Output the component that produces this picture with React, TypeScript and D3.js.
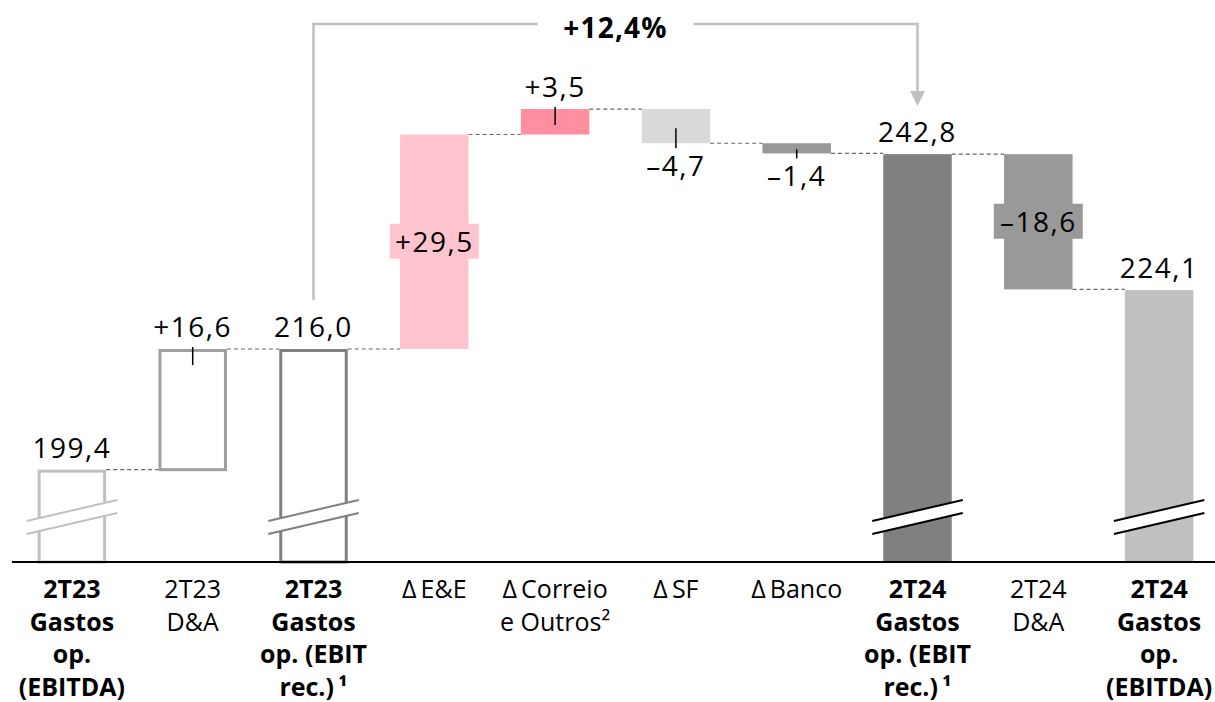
import React from "react";
import * as d3 from "d3";

const categories = [
  "2T23 EBITDA", "2T23 D&A", "2T23 EBIT", "E&E", "Correio", "SF", "Banco",
  "2T24 EBIT", "2T24 D&A", "2T24 EBITDA",
];
const labelLines = [
  ["2T23", "Gastos", "op.", "(EBITDA)"],
  ["2T23", "D&A"],
  ["2T23", "Gastos", "op. (EBIT", "rec.)\u2009¹"],
  ["Δ\u2009E&E"],
  ["Δ\u2009Correio", "e Outros²"],
  ["Δ\u2009SF"],
  ["Δ\u2009Banco"],
  ["2T24", "Gastos", "op. (EBIT", "rec.)\u2009¹"],
  ["2T24", "D&A"],
  ["2T24", "Gastos", "op.", "(EBITDA)"],
];
const boldLabel = [true, false, true, false, false, false, false, true, false, true];
const values = [199.4, 16.6, 216.0, 29.5, 3.5, -4.7, -1.4, 242.8, -18.6, 224.1];
const kinds = ["total", "delta", "total", "delta", "delta", "delta", "delta", "total", "delta", "total"];
const outlined = [true, true, true, false, false, false, false, false, false, false];
const broken = [true, false, true, false, false, false, false, true, false, true];
const colors = ["#c0c0c0", "#a0a0a0", "#808080", "#ffc4ce", "#ff8ea0", "#d9d9d9", "#999999", "#808080", "#999999", "#c0c0c0"];
const growthFrom = 2;
const growthTo = 7;

const W = 1215, H = 702;
const FONT = "'Open Sans', 'DejaVu Sans', sans-serif";
const VW = 400;

function fmt(v: number, kind: string) {
  const s = Math.abs(v).toFixed(1).replace(".", ",");
  if (kind === "total") return s;
  return (v >= 0 ? "+" : "\u2013") + s;
}

export default function App() {
  const x = d3.scaleBand<string>().domain(categories).range([11.5, 1219.5]).paddingInner(0.433).paddingOuter(0.2165);
  const y = d3.scaleLinear().domain([186.7, 264]).range([562, 0]);
  const bw = x.bandwidth();
  const base = y(186.7);

  let run = 0;
  const bars = values.map((v, i) => {
    let lo: number, hi: number, end: number;
    if (kinds[i] === "total") {
      lo = 186.7; hi = v; end = v; run = v;
    } else {
      const start = run;
      end = run + v;
      lo = Math.min(start, end); hi = Math.max(start, end);
      run = end;
    }
    const x0 = x(categories[i]) as number;
    return { i, v, kind: kinds[i], x0, x1: x0 + bw, cx: x0 + bw / 2, top: y(hi), bottom: y(lo), end };
  });

  const growth = values[growthTo] / values[growthFrom] - 1;
  const growthText = "+" + (growth * 100).toFixed(1).replace(".", ",") + "%";
  const gA = bars[growthFrom], gB = bars[growthTo];

  return (
    <svg width={W} height={H} style={{ position: "absolute", left: 0, top: 0, fontFamily: FONT }}>
      <rect width={W} height={H} fill="#fff" />
      {/* connectors */}
      {bars.slice(0, -1).map((b, i) => {
        const n = bars[i + 1];
        const yy = y(b.end);
        return (
          <line key={"c" + i} x1={b.x1} x2={n.x0} y1={yy} y2={yy} stroke="#666" strokeWidth={1.2} strokeDasharray="4 3" />
        );
      })}
      {/* bars */}
      {bars.map((b) =>
        outlined[b.i] ? (
          <rect key={"b" + b.i} x={b.x0 + 1.5} y={b.top + 1.5} width={bw - 3} height={b.bottom - b.top - 1.5}
            fill="none" stroke={colors[b.i]} strokeWidth={3} />
        ) : (
          <rect key={"b" + b.i} x={b.x0} y={b.top} width={bw} height={b.bottom - b.top} fill={colors[b.i]} />
        )
      )}
      {/* breaks */}
      {bars.filter((b) => broken[b.i]).map((b) => {
        const lx = b.x0 - 11, rx = b.x1 + 11;
        const ly = base - 41, ry = base - 62, g = 13;
        const col = outlined[b.i] ? colors[b.i] : "#000";
        return (
          <g key={"k" + b.i}>
            <polygon points={`${lx},${ly} ${rx},${ry} ${rx},${ry + g} ${lx},${ly + g}`} fill="#fff" />
            <line x1={lx} y1={ly} x2={rx} y2={ry} stroke={col} strokeWidth={2} />
            <line x1={lx} y1={ly + g} x2={rx} y2={ry + g} stroke={col} strokeWidth={2} />
          </g>
        );
      })}
      {/* baseline */}
      <line x1={12} x2={W} y1={base} y2={base} stroke="#000" strokeWidth={2} />
      {/* value labels */}
      {bars.map((b) => {
        const txt = fmt(b.v, b.kind);
        const h = b.bottom - b.top;
        if (b.kind === "delta" && !outlined[b.i] && h > 100) {
          const my = (b.top + b.bottom) / 2;
          return (
            <g key={"l" + b.i}>
              <rect x={b.cx - 44.5} y={my - 18} width={89} height={35} fill={colors[b.i]} />
              <text x={b.cx} y={my + 10} textAnchor="middle" fontSize={28} fontWeight={VW} letterSpacing={1.5} fill="#000">{txt}</text>
            </g>
          );
        }
        if (b.kind === "delta" && b.v < 0) {
          return (
            <g key={"l" + b.i}>
              <line x1={b.cx} x2={b.cx} y1={b.bottom + 5} y2={Math.max(b.top + 6, b.bottom - 15)} stroke="#000" strokeWidth={1.5} />
              <text x={b.cx} y={b.bottom + 33} textAnchor="middle" fontSize={28} fontWeight={VW} letterSpacing={1.5} fill="#000">{txt}</text>
            </g>
          );
        }
        return (
          <g key={"l" + b.i}>
            {b.kind === "delta" && (
              <line x1={b.cx} x2={b.cx} y1={b.top - 2} y2={b.top + 16} stroke="#000" strokeWidth={1.5} />
            )}
            <text x={b.cx} y={b.top - 12} textAnchor="middle" fontSize={28} fontWeight={VW} letterSpacing={1.5} fill="#000">{txt}</text>
          </g>
        );
      })}
      {/* growth bracket */}
      <path d={`M${gA.cx},300 V24 H${(gA.cx + gB.cx) / 2 - 78} M${(gA.cx + gB.cx) / 2 + 78},24 H${gB.cx} V92`}
        fill="none" stroke="#c0c0c0" strokeWidth={2.5} />
      <polygon points={`${gB.cx - 7.5},91 ${gB.cx + 7.5},91 ${gB.cx},106`} fill="#c0c0c0" />
      <text x={(gA.cx + gB.cx) / 2} y={38} textAnchor="middle" fontSize={28} fontWeight={700} letterSpacing={1.2} fill="#000">{growthText}</text>
      {/* category labels */}
      {bars.map((b) => (
        <text key={"t" + b.i} x={b.cx} textAnchor="middle" fontSize={25} fontWeight={boldLabel[b.i] ? 700 : VW} fill="#000">
          {labelLines[b.i].map((ln, j) => (
            <tspan key={j} x={b.cx} y={598 + j * 32.5}>{ln}</tspan>
          ))}
        </text>
      ))}
    </svg>
  );
}
